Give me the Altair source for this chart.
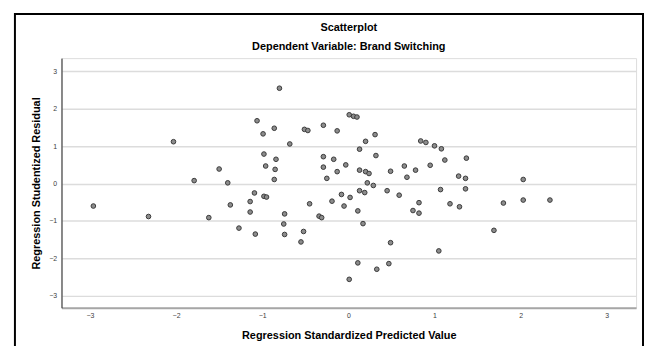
import altair as alt
import pandas as pd

pred = [-2.96, -2.32, -2.03, -1.79, -1.62, -1.50, -1.40, -1.37, -1.27, -1.14,
        -1.14, -1.09, -1.08, -1.06, -0.99, -0.98, -0.96, -0.98, -0.95, -0.86,
        -0.84, -0.85, -0.86, -0.80, -0.74, -0.75, -0.74, -0.68, -0.55, -0.52,
        -0.51, -0.47, -0.45, -0.34, -0.31, -0.29, -0.29, -0.29, -0.25, -0.19,
        -0.17, -0.13, -0.13, -0.08, -0.05, -0.03, 0.01, 0.06, 0.10, 0.02,
        0.01, 0.11, 0.11, 0.13, 0.13, 0.13, 0.17, 0.19, 0.20, 0.20,
        0.22, 0.24, 0.29, 0.31, 0.32, 0.33, 0.45, 0.47, 0.49, 0.49,
        0.59, 0.65, 0.68, 0.75, 0.78, 0.82, 0.82, 0.84, 0.90, 0.95,
        1.00, 1.05, 1.07, 1.08, 1.12, 1.18, 1.28, 1.29, 1.36, 1.36,
        1.37, 1.69, 1.80, 2.03, 2.03, 2.34]
resid = [-0.60, -0.88, 1.12, 0.08, -0.91, 0.39, 0.02, -0.57, -1.19, -0.48,
         -0.76, -0.25, -1.35, 1.68, 1.33, 0.79, 0.47, -0.34, -0.36, 1.48,
         0.65, 0.38, 0.11, 2.55, -0.81, -1.08, -1.36, 1.06, -1.56, -1.28,
         1.45, 1.42, -0.54, -0.87, -0.91, 1.56, 0.72, 0.44, 0.14, -0.47,
         0.65, 1.41, 0.32, -0.29, -0.60, 0.50, 1.84, 1.80, 1.78, -0.37,
         -2.56, -0.73, -2.12, 0.92, 0.36, -0.19, -1.07, -0.24, 1.13, 0.32,
         0.02, 0.27, -0.05, 1.31, 0.75, -2.29, -0.19, -2.14, 0.33, -1.58,
         -0.31, 0.47, 0.17, -0.72, 0.36, -0.51, -0.79, 1.14, 1.10, 0.49,
         1.01, -1.80, -0.16, 0.93, 0.63, -0.54, 0.20, -0.62, 0.14, -0.14,
         0.68, -1.25, -0.52, 0.11, -0.44, -0.44]
ticks = [-3, -2, -1, 0, 1, 2, 3]
title_text = "Scatterplot"
subtitle_text = "Dependent Variable: Brand Switching"

df = pd.DataFrame({"pred": pred, "resid": resid})
one = pd.DataFrame({"k": [0]})

W, H = 580, 252

points = alt.Chart(df).mark_point(
    shape="circle", filled=True, fill="#8c8c8c", stroke="#3a3a3a",
    strokeWidth=1, size=22, opacity=1
).encode(
    x=alt.X("pred:Q", scale=alt.Scale(domain=[-3.33, 3.34], nice=False, zero=False),
            axis=alt.Axis(values=ticks, title="Regression Standardized Predicted Value",
                          grid=False, ticks=False, labelFontSize=7, labelColor="#404040",
                          labelPadding=4, domainColor="#a6a6a6", domainWidth=2,
                          titleFontSize=11, titleFontWeight="bold", titleColor="#000000",
                          titleFont="Liberation Sans", labelFont="Liberation Sans",
                          titleX=W / 2, titleY=28, titleBaseline="middle", titleAlign="center")),
    y=alt.Y("resid:Q", scale=alt.Scale(domain=[-3.32, 3.355], nice=False, zero=False),
            axis=alt.Axis(values=ticks, title="Regression Studentized Residual",
                          grid=True, gridColor="#dcdcdc", gridWidth=1.5,
                          ticks=False, labelFontSize=7, labelColor="#404040",
                          labelPadding=5, domainColor="#222222", domainWidth=1,
                          titleFontSize=11, titleFontWeight="bold", titleColor="#000000",
                          titleFont="Liberation Sans", labelFont="Liberation Sans",
                          titleX=-25, titleY=H / 2, titleBaseline="middle", titleAlign="center",
                          titleAngle=270)),
)

frame = alt.Chart(one).mark_rect(fill=None, stroke="black", strokeWidth=2, clip=False).encode(
    x=alt.value(-47), x2=alt.value(587), y=alt.value(-44.5), y2=alt.value(330)
)

title = alt.Chart(one).mark_text(
    font="Liberation Sans", fontSize=11, fontWeight="bold", color="#000000",
    align="center", baseline="middle"
).encode(x=alt.value(W / 2), y=alt.value(-30), text=alt.value(title_text))

subtitle = alt.Chart(one).mark_text(
    font="Liberation Sans", fontSize=11, fontWeight="bold", color="#000000",
    align="center", baseline="middle"
).encode(x=alt.value(W / 2), y=alt.value(-11.5), text=alt.value(subtitle_text))

chart = alt.layer(points, frame, title, subtitle).properties(
    width=W, height=H,
    autosize=alt.AutoSizeParams(type="none"),
    padding={"left": 54, "top": 49, "right": 8, "bottom": 37},
).configure_view(stroke=None).configure(background="white")

chart.save("out.html", embed_options={"renderer": "svg", "actions": False})
